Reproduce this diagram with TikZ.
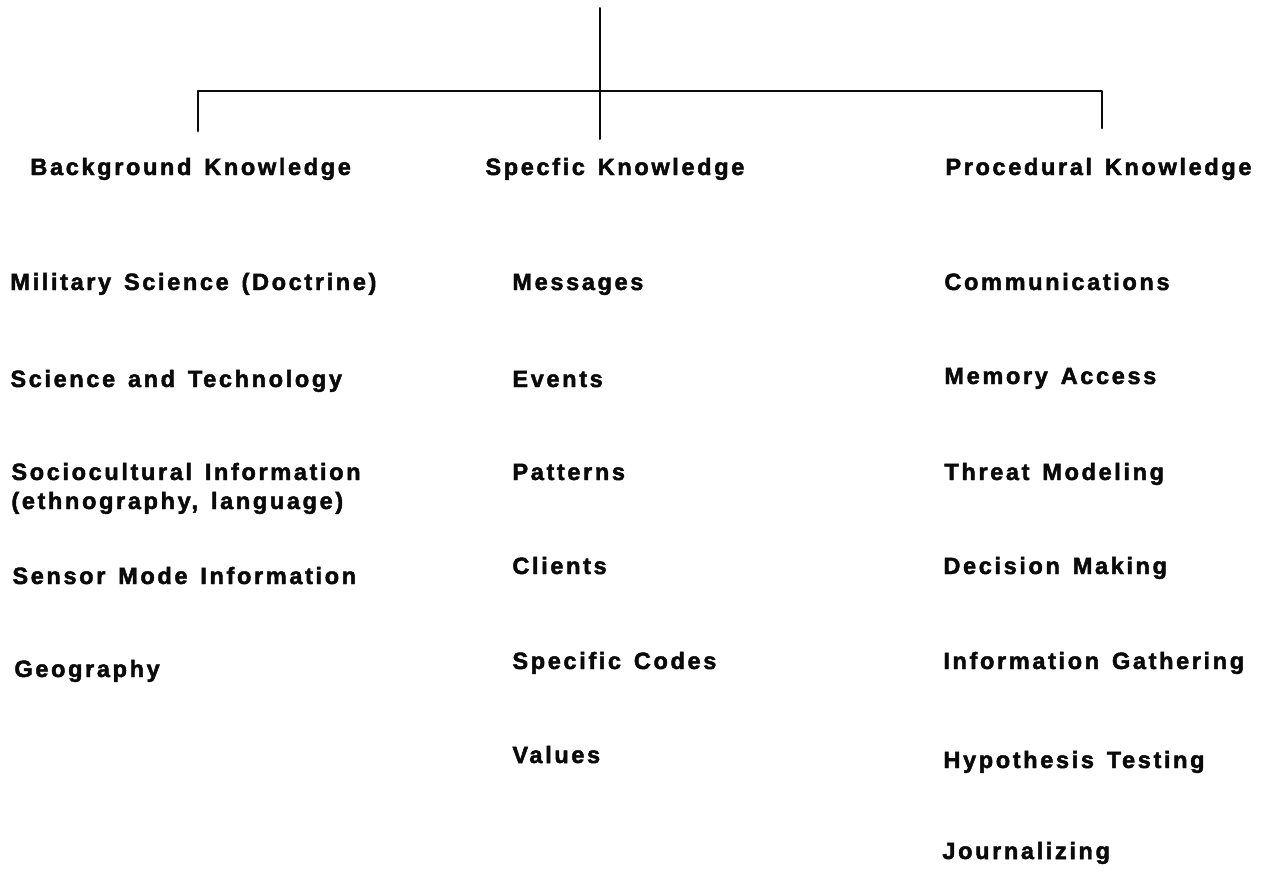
\documentclass[tikz,border=0pt]{standalone}
\usepackage{fontspec}
\usepackage{xcolor}
\usepackage{tikz}
\newfontfamily\scanfont{Liberation Sans}[UprightFont={* Bold},FakeBold=2,LetterSpace=11,WordSpace=1.4]
\definecolor{ScanInk}{HTML}{0A0A0A}

\begin{document}
\begin{tikzpicture}[x=0.5pt,y=-0.5pt,
  item/.style={anchor=base west,inner sep=0pt,text=ScanInk,font=\scanfont\fontsize{11.8}{14}\selectfont},
  head/.style={item},
  wire/.style={draw=ScanInk,line width=1.4pt,line cap=round,line join=round}]
\path[use as bounding box] (0,0) rectangle (1268,873);
% tree lines
\coordinate (top) at (600,8);
\coordinate (hub) at (600,91);
\coordinate (midend) at (600,139);
\coordinate (lcorner) at (198,91);
\coordinate (rcorner) at (1102,91);
\coordinate (lend) at (198,131);
\coordinate (rend) at (1102,128);
\draw[wire,line width=1pt] (top) -- (hub) -- (midend);
\draw[wire] (lend) -- (lcorner) -- (hub) -- (rcorner) -- (rend);
% headings
\node[head] (bghead) at (30,175) {Background Knowledge};
\node[head] (sphead) at (485,175) {Specfic Knowledge};
\node[head] (prhead) at (945,175) {Procedural Knowledge};
% background column
\node[item] (milsci) at (10,290) {Military Science (Doctrine)};
\node[item] (scitech) at (10,387) {Science and Technology};
\node[item] (socio) at (11,480) {Sociocultural Information};
\node[item] (sociob) at (11,509) {(ethnography, language)};
\node[item] (sensor) at (12,584) {Sensor Mode Information};
\node[item] (geo) at (14,677) {Geography};
% specific column
\node[item] (msg) at (512,290) {Messages};
\node[item] (events) at (512,387) {Events};
\node[item] (patterns) at (512,480) {Patterns};
\node[item] (clients) at (512,574) {Clients};
\node[item] (codes) at (512,669) {Specific Codes};
\node[item] (values) at (512,763) {Values};
% procedural column
\node[item] (comms) at (944,290) {Communications};
\node[item] (memory) at (944,384) {Memory Access};
\node[item] (threat) at (944,480) {Threat Modeling};
\node[item] (decision) at (943,574) {Decision Making};
\node[item] (infogath) at (943,669) {Information Gathering};
\node[item] (hypo) at (943,768) {Hypothesis Testing};
\node[item] (journal) at (942,859) {Journalizing};
\end{tikzpicture}
\end{document}
